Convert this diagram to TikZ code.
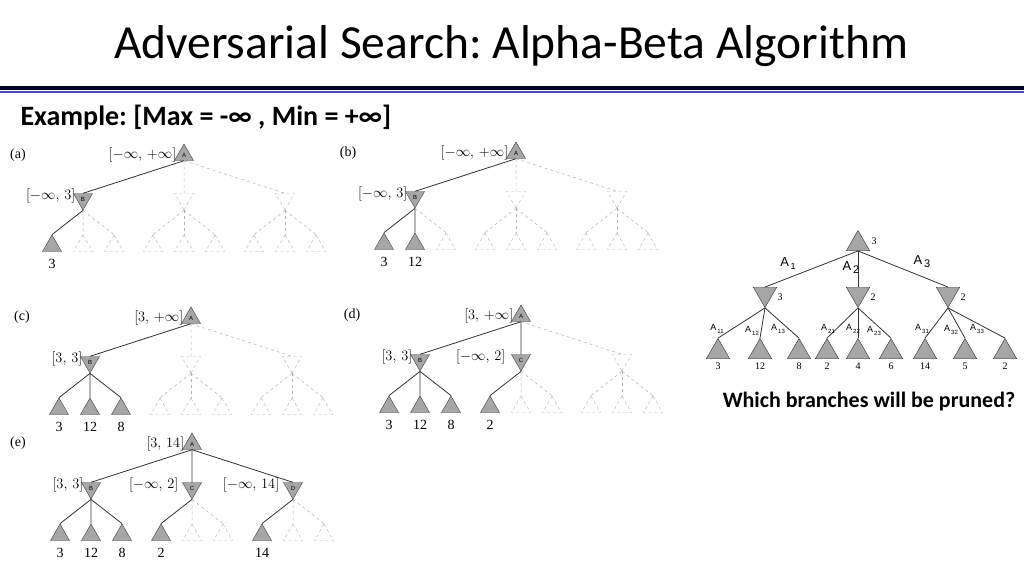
\documentclass[tikz,border=0pt]{standalone}
\usepackage{fontspec}
\setmainfont{Liberation Serif}
\newfontfamily\calfont{Carlito}
\newfontfamily\lsans{Liberation Sans}
\usetikzlibrary{shapes.geometric,calc}
\frenchspacing
\tikzset{
 tri/.style={regular polygon,regular polygon sides=3,minimum size=22pt,inner sep=0pt,font=\fontsize{6}{6}\selectfont\lsans},
 maxs/.style={tri,draw=black!75,fill=black!35},
 maxd/.style={tri,draw=black!30,dashed},
 mins/.style={maxs,shape border rotate=180},
 mind/.style={maxd,shape border rotate=180},
 se/.style={draw=black!80,line width=0.8pt},
 de/.style={draw=black!30,dashed,line width=0.5pt},
 lab/.style={font=\fontsize{14}{14}\selectfont,inner sep=1pt},
 big/.style={tri,draw=black!80,fill=black!35,minimum size=27pt},
 bigd/.style={big,shape border rotate=180},
 val/.style={font=\fontsize{10}{10}\selectfont,inner sep=1pt},
 el/.style={font=\fontsize{13}{13}\selectfont\lsans,inner sep=0pt},
}
\newcommand\Asub[2]{A\raisebox{-3pt}{\fontsize{#2}{#2}\selectfont\,#1}}
\newcommand\abpanel[4]{%
 \begin{scope}[shift={(#2,#3)}]
 \node[maxs] (#1-r) at (0,0) {A};
 \foreach \i/\lt in {1/B,2/C,3/D}{
  \pgfmathtruncatemacro\ms{or(\i==1,or(and(\i==2,#4>=4),and(\i==3,#4>=5)))}
  \pgfmathsetmacro\mx{(\i-2)*101}
  \ifnum\ms=1
   \node[mins] (#1-m\i) at (\mx,44) {\lt};
   \draw[se] (#1-r.south) -- (#1-m\i.north);
  \else
   \node[mind] (#1-m\i) at (\mx,44) {};
   \draw[de] (#1-r.south) -- (#1-m\i.north);
  \fi
  \foreach \j in {1,2,3}{
   \pgfmathtruncatemacro\ls{or(and(\i==1,\j<=#4),and(\ms==1,\j==1))}
   \pgfmathsetmacro\lx{\mx+(\j-2)*31}
   \ifnum\ls=1
    \node[maxs] (#1-l\i\j) at (\lx,91) {};
    \draw[se] (#1-m\i.south) -- (#1-l\i\j.north);
   \else
    \node[maxd] (#1-l\i\j) at (\lx,91) {};
    \draw[de] (#1-m\i.south) -- (#1-l\i\j.north);
   \fi
  }
 }
 \end{scope}}
\begin{document}
\begin{tikzpicture}[x=1pt,y=-1pt]
\useasboundingbox[fill=white] (0,0) rectangle (1024,576);
\node[font=\fontsize{47.5}{47.5}\selectfont\calfont] (title) at (511,46) {Adversarial Search: Alpha-Beta Algorithm};
\fill[black!85!blue] (0,86) rectangle (1024,90);
\fill[blue!60!black!70] (0,91) rectangle (1024,93);
\node[anchor=west,font=\fontsize{28}{28}\selectfont\calfont\bfseries] (ex) at (17,117) {Example: [Max = -∞ , Min = +∞]};
% panels
\abpanel{a}{184}{155}{1}
\abpanel{b}{516}{153}{2}
\abpanel{c}{191}{318}{3}
\abpanel{d}{521}{316}{4}
\abpanel{e}{192}{444}{5}
\node[lab] (pa) at (18,155) {(a)};
\node[lab] (pb) at (348,153) {(b)};
\node[lab] (pc) at (22,317) {(c)};
\node[lab] (pd) at (352,315) {(d)};
\node[lab] (pe) at (18,443) {(e)};
% interval labels
\node[lab,anchor=east] at ([yshift=0pt]a-r.west) {$[-\infty,\,+\infty]$};
\node[lab,anchor=east] at ([yshift=3pt]a-m1.west) {$[-\infty,\,3]$};
\node[lab,anchor=east] at ([yshift=0pt]b-r.west) {$[-\infty,\,+\infty]$};
\node[lab,anchor=east] at ([yshift=3pt]b-m1.west) {$[-\infty,\,3]$};
\node[lab,anchor=east] at ([yshift=0pt]c-r.west) {$[3,\,+\infty]$};
\node[lab,anchor=east] at ([yshift=3pt]c-m1.west) {$[3,\,3]$};
\node[lab,anchor=east] at ([yshift=0pt]d-r.west) {$[3,\,+\infty]$};
\node[lab,anchor=east] at ([yshift=3pt]d-m1.west) {$[3,\,3]$};
\node[lab,anchor=east] at ([xshift=-8pt,yshift=3pt]d-m2.west) {$[-\infty,\,2]$};
\node[lab,anchor=east] at ([yshift=0pt]e-r.west) {$[3,\,14]$};
\node[lab,anchor=east] at ([yshift=3pt]e-m1.west) {$[3,\,3]$};
\node[lab,anchor=east] at ([xshift=-6pt,yshift=3pt]e-m2.west) {$[-\infty,\,2]$};
\node[lab,anchor=east] at ([xshift=-6pt,yshift=3pt]e-m3.west) {$[-\infty,\,14]$};
% leaf values
\foreach \p/\n/\v in {a/11/3,b/11/3,b/12/12,c/11/3,c/12/12,c/13/8,d/11/3,d/12/12,d/13/8,d/21/2,e/11/3,e/12/12,e/13/8,e/21/2,e/31/14}
 \node[lab,anchor=north] at ([yshift=-6pt]\p-l\n.south) {\v};
% right tree
\node[big] (R) at (858,244) {};
\node[val] at ($(R)+(16,-3)$) {3};
\foreach \i/\x/\v in {1/765/3,2/858/2,3/948/2}{
 \node[bigd] (R\i) at (\x,294) {};
 \node[val] at (\x+15,297) {\v};
 \draw[se] (R.south) -- (R\i.north);
}
\foreach \i/\j/\x/\v in {1/1/718/3,1/2/760/12,1/3/799/8,2/1/827/2,2/2/858/4,2/3/891/6,3/1/925/14,3/2/965/5,3/3/1005/2}{
 \node[big] (L\i\j) at (\x,352) {};
 \node[val] at (\x,366) {\v};
 \draw[se] (R\i.south) -- (L\i\j.north);
}
\node[el] at (788,264) {\Asub{1}{9}};
\node[el] at (851,268) {\Asub{2}{11}};
\node[el] at (922,262) {\Asub{3}{11}};
\foreach \t/\x/\y in {11/717/329,12/752/331,13/778/329,21/828/329,22/853/329,23/874/331,31/922/329,32/951/330,33/977/329}
 \node[el,font=\fontsize{9}{9}\selectfont\lsans] at (\x,\y) {\Asub{\t}{6}};
\node[font=\fontsize{22}{22}\selectfont\calfont\bfseries] (q) at (869,402) {Which branches will be pruned?};
\end{tikzpicture}
\end{document}
